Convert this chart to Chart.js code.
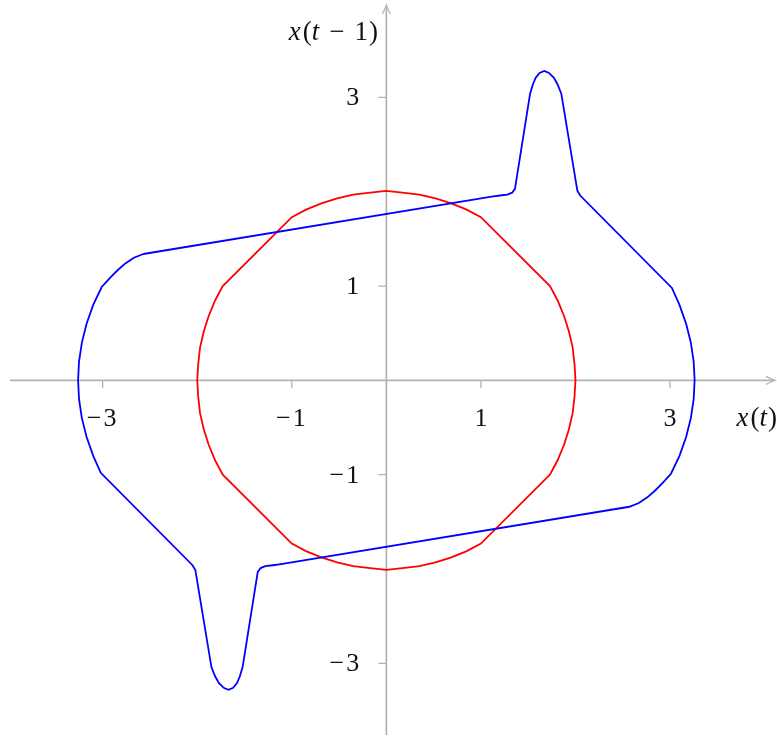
<!DOCTYPE html>
<html>
<head>
<meta charset="utf-8">
<script src="https://cdn.jsdelivr.net/npm/chart.js@4.4.1/dist/chart.umd.min.js"></script>
<style>
  body { margin: 0; background: #fff; }
</style>
</head>
<body>
<canvas id="myChart" width="777" height="736"></canvas>
<script>
// red loop: x(t), x(t-1)
const redX = [1.73, 1.81, 1.88, 1.93, 1.97, 1.99, 2.00, 1.99, 1.97, 1.93, 1.88, 1.81, 1.73,
  1.00, 0.85, 0.68, 0.52, 0.35, 0.17, 0.00, -0.17, -0.35, -0.52, -0.68, -0.85, -1.00,
  -1.73, -1.81, -1.88, -1.93, -1.97, -1.99, -2.00, -1.99, -1.97, -1.93, -1.88, -1.81, -1.73,
  -1.00, -0.85, -0.68, -0.52, -0.35, -0.17, 0.00, 0.17, 0.35, 0.52, 0.68, 0.85, 1.00, 1.73];
const redY = [-1.00, -0.85, -0.68, -0.52, -0.35, -0.17, 0.00, 0.17, 0.35, 0.52, 0.68, 0.85, 1.00,
  1.73, 1.81, 1.88, 1.93, 1.97, 1.99, 2.01, 1.99, 1.97, 1.93, 1.88, 1.81, 1.73,
  1.00, 0.85, 0.68, 0.52, 0.35, 0.17, 0.00, -0.17, -0.35, -0.52, -0.68, -0.85, -1.00,
  -1.73, -1.81, -1.88, -1.93, -1.97, -1.99, -2.01, -1.99, -1.97, -1.93, -1.88, -1.81, -1.73, -1.00];

// blue loop
const blueX = [-2.57, -2.67, -2.76, -2.84, -2.92, -3.01, -3.10, -3.17, -3.22, -3.25, -3.26,
  -3.25, -3.22, -3.17, -3.10, -3.02,
  -2.05, -2.02, -1.85, -1.81, -1.77, -1.72, -1.67, -1.62, -1.58, -1.55, -1.52, -1.36, -1.33, -1.28, -1.20, -1.13,
  2.57, 2.67, 2.76, 2.84, 2.92, 3.01, 3.10, 3.17, 3.22, 3.25, 3.26,
  3.25, 3.22, 3.17, 3.10, 3.02,
  2.05, 2.02, 1.85, 1.81, 1.77, 1.72, 1.67, 1.62, 1.58, 1.55, 1.52, 1.36, 1.33, 1.28, 1.20, 1.13, -2.57];
const blueY = [1.34, 1.30, 1.24, 1.17, 1.09, 0.99, 0.80, 0.60, 0.40, 0.20, 0.00,
  -0.20, -0.40, -0.60, -0.80, -0.98,
  -1.96, -2.01, -3.04, -3.14, -3.21, -3.26, -3.28, -3.26, -3.21, -3.14, -3.04, -2.03, -1.99, -1.97, -1.96, -1.95,
  -1.34, -1.30, -1.24, -1.17, -1.09, -0.99, -0.80, -0.60, -0.40, -0.20, 0.00,
  0.20, 0.40, 0.60, 0.80, 0.98,
  1.96, 2.01, 3.04, 3.14, 3.21, 3.26, 3.28, 3.26, 3.21, 3.14, 3.04, 2.03, 1.99, 1.97, 1.96, 1.95, 1.34];

const xTicks = [-3, -1, 1, 3];
const yTicks = [3, 1, -1, -3];

const toPoints = (xs, ys) => xs.map((v, i) => ({ x: v, y: ys[i] }));
const fmt = v => (v < 0 ? '\u2212\u200a' + Math.abs(v) : String(v));
const serif = '"Liberation Serif", "DejaVu Serif", serif';

// text made of upright / italic pieces, numbers are extra gaps in px
function drawMath(ctx, parts, x, y, align) {
  const size = '27px ';
  const width = p => {
    if (typeof p === 'number') return p;
    ctx.font = (p[1] ? 'italic ' : '') + size + serif;
    return ctx.measureText(p[0]).width;
  };
  const w = parts.reduce((s, p) => s + width(p), 0);
  let cx = align === 'right' ? x - w : align === 'center' ? x - w / 2 : x;
  ctx.textAlign = 'left';
  parts.forEach(p => {
    const pw = width(p);
    if (typeof p !== 'number') ctx.fillText(p[0], cx, y);
    cx += pw;
  });
}

const middleAxes = {
  id: 'middleAxes',
  beforeDatasetsDraw(chart) {
    const { ctx, chartArea: a, scales: { x, y } } = chart;
    const x0 = x.getPixelForValue(0), y0 = y.getPixelForValue(0);
    ctx.save();
    ctx.strokeStyle = '#b3b3b3';
    ctx.lineWidth = 1.7;
    ctx.beginPath();
    ctx.moveTo(a.left, y0); ctx.lineTo(a.right, y0);
    ctx.moveTo(x0, a.bottom); ctx.lineTo(x0, a.top);
    ctx.stroke();
    // arrow heads
    ctx.lineWidth = 1.2;
    ctx.beginPath();
    ctx.moveTo(a.right - 9, y0 - 4); ctx.quadraticCurveTo(a.right - 3, y0 - 1, a.right, y0);
    ctx.quadraticCurveTo(a.right - 3, y0 + 1, a.right - 9, y0 + 4);
    ctx.moveTo(x0 - 4, a.top + 9); ctx.quadraticCurveTo(x0 - 1, a.top + 3, x0, a.top);
    ctx.quadraticCurveTo(x0 + 1, a.top + 3, x0 + 4, a.top + 9);
    ctx.stroke();
    // tick marks
    ctx.lineWidth = 1.3;
    ctx.beginPath();
    xTicks.forEach(v => { const p = x.getPixelForValue(v); ctx.moveTo(p, y0); ctx.lineTo(p, y0 + 8); });
    yTicks.forEach(v => { const p = y.getPixelForValue(v); ctx.moveTo(x0 - 8, p); ctx.lineTo(x0, p); });
    ctx.stroke();
    // tick labels
    ctx.fillStyle = '#111';
    ctx.font = '26px ' + serif;
    ctx.textBaseline = 'middle';
    ctx.textAlign = 'center';
    xTicks.forEach(v => ctx.fillText(fmt(v), x.getPixelForValue(v) - (v < 0 ? 1 : 0), y0 + 39));
    ctx.textAlign = 'right';
    yTicks.forEach(v => ctx.fillText(fmt(v), x0 - 27, y.getPixelForValue(v) + 1));
    // axis titles
    drawMath(ctx, [['x', 1], 2, ['(', 0], ['t', 1], 1, [')', 0]], 777, y0 + 39, 'right');
    drawMath(ctx, [['x', 1], 2, ['(', 0], ['t', 1], 10, ['\u2212', 0], 10, ['1', 0], 1, [')', 0]], 378, 33, 'right');
    ctx.restore();
  }
};

const ctx = document.getElementById('myChart').getContext('2d');
const myChart = new Chart(ctx, {
  type: 'scatter',
  data: {
    datasets: [{
      label: 'blue',
      data: toPoints(blueX, blueY),
      showLine: true,
      borderColor: '#0000ff',
      borderWidth: 1.8,
      pointRadius: 0,
      tension: 0
    }, {
      label: 'red',
      data: toPoints(redX, redY),
      showLine: true,
      borderColor: '#ff0000',
      borderWidth: 1.8,
      pointRadius: 0,
      tension: 0
    }]
  },
  options: {
    responsive: false,
    animation: false,
    devicePixelRatio: 1,
    layout: { padding: { left: 10, right: 2, top: 5, bottom: 1 } },
    scales: {
      x: { type: 'linear', min: -3.98, max: 4.11, display: false },
      y: { type: 'linear', min: -3.76, max: 3.98, display: false }
    },
    plugins: {
      legend: { display: false },
      tooltip: { enabled: false }
    }
  },
  plugins: [middleAxes]
});
</script>
</body>
</html>
